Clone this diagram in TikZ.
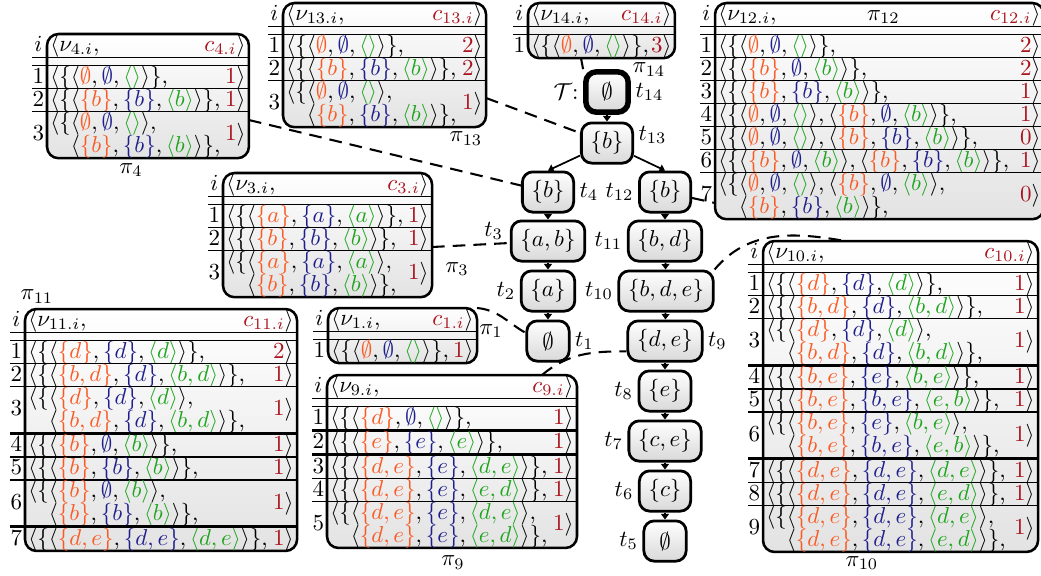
\documentclass[tikz,border=0pt]{standalone}
\usepackage{array}
\usetikzlibrary{arrows.meta,backgrounds}
\definecolor{cO}{RGB}{250,90,35}
\definecolor{cB}{RGB}{30,30,140}
\definecolor{cG}{RGB}{30,165,30}
\definecolor{cR}{RGB}{170,20,30}
\newcommand{\oset}[1]{\textcolor{cO}{\{#1\}}}
\newcommand{\bset}[1]{\textcolor{cB}{\{#1\}}}
\newcommand{\gseq}[1]{\textcolor{cG}{\langle #1\rangle}}
\newcommand{\oemp}{\textcolor{cO}{\emptyset}}
\newcommand{\bemp}{\textcolor{cB}{\emptyset}}
\newcommand{\tup}[3]{\langle #1, #2, #3\rangle}
\newcommand{\TE}{\tup{\oemp}{\bemp}{\gseq{}}}
\newcommand{\TB}{\tup{\oset{b}}{\bset{b}}{\gseq{b}}}
\newcommand{\TBz}{\tup{\oset{b}}{\bemp}{\gseq{b}}}
\newcommand{\cv}[1]{\textcolor{cR}{#1}}
\newcommand{\hd}[1]{$\langle\nu_{#1.i},$\hfill$\cv{c_{#1.i}}\rangle$}
\newcommand{\rw}[2]{$\langle\{#1\}$,\hfill$\cv{#2}\rangle$}
\newcommand{\rww}[3]{\begin{tabular}[c]{@{}l@{}}$\langle\{#1,$\\[0.2pt]\hphantom{$\langle\{$}$#2\}$,\end{tabular}\hfill$\cv{#3}\rangle$}
\newcommand{\dhl}{\hline\noalign{\vskip 3pt}\hline}
\newcommand{\thl}{\noalign{\hrule height 1.1pt}}
\newcommand{\rl}{\\[-0.5pt]\hline}
\newcommand{\rt}{\\[-0.5pt]\thl}
\renewcommand{\arraystretch}{0.5}
\setlength{\arrayrulewidth}{0.5pt}
\newenvironment{ptab}[1]{\begin{tabular}{@{}w{c}{5.5pt}@{\hspace{2.5pt}}w{l}{#1}@{\hspace{1.5pt}}}}{\end{tabular}}
\newcommand{\pbox}[1]{\begin{scope}[on background layer]\path[pbx] ([xshift=6.5pt]#1.north west) rectangle (#1.south east);\end{scope}}
\begin{document}
\begin{tikzpicture}[x=0.4348pt,y=-0.4348pt,
  tn/.style={draw, line width=1.2pt, rounded corners=4.5pt, top color=white, bottom color=gray!30, minimum height=17.5pt, minimum width=18.4pt, inner xsep=4pt, inner ysep=0pt},
  rootnode/.style={line width=2.4pt},
  lab/.style={inner sep=1.8pt},
  plab/.style={anchor=north, inner sep=0.8pt},
  ptn/.style={anchor=north west, inner sep=0pt, outer sep=0pt, xshift=-6.5pt},
  pbx/.style={draw, line width=1.1pt, rounded corners=5pt, top color=white, bottom color=gray!22},
  edg/.style={-{Triangle[length=2.4pt,width=3.4pt]}, line width=0.75pt},
  dsh/.style={dash pattern=on 5.5pt off 3.5pt, line width=0.9pt}]
\useasboundingbox (0,0) rectangle (1041,575);

% tree nodes
\node[tn, rootnode] (t14) at (607,92) {$\emptyset$};
\node[tn] (t13) at (607,143) {$\{b\}$};
\node[tn] (t4) at (548,192) {$\{b\}$};
\node[tn] (t12) at (665,192) {$\{b\}$};
\node[tn] (t3) at (548,241) {$\{a,b\}$};
\node[tn] (t11) at (665,241) {$\{b,d\}$};
\node[tn] (t2) at (548,291) {$\{a\}$};
\node[tn] (t10) at (666,291) {$\{b,d,e\}$};
\node[tn] (t1) at (548,341) {$\emptyset$};
\node[tn] (t9) at (665,341) {$\{d,e\}$};
\node[tn] (t8) at (665,391) {$\{e\}$};
\node[tn] (t7) at (665,441) {$\{c,e\}$};
\node[tn] (t6) at (665,491) {$\{c\}$};
\node[tn] (t5) at (665,541) {$\emptyset$};

% labels
\node[lab, anchor=east] (lT) at (t14.west) {$\mathcal{T}$:};
\node[lab, anchor=west] (l14) at (t14.east) {$t_{14}$};
\node[lab, anchor=west] (l13) at ([yshift=3.5pt]t13.east) {$t_{13}$};
\node[lab, anchor=west] (l4) at (t4.east) {$t_{4}$};
\node[lab, anchor=east] (l12) at (t12.west) {$t_{12}$};
\node[lab, anchor=east] (l3) at ([xshift=-1pt,yshift=4.5pt]t3.west) {$t_{3}$};
\node[lab, anchor=east] (l11) at (t11.west) {$t_{11}$};
\node[lab, anchor=east] (l2) at (t2.west) {$t_{2}$};
\node[lab, anchor=east] (l10) at (t10.west) {$t_{10}$};
\node[lab, anchor=west] (l1) at (t1.east) {$t_{1}$};
\node[lab, anchor=west] (l9) at (t9.east) {$t_{9}$};
\node[lab, anchor=east] (l8) at (t8.west) {$t_{8}$};
\node[lab, anchor=east] (l7) at (t7.west) {$t_{7}$};
\node[lab, anchor=east] (l6) at (t6.west) {$t_{6}$};
\node[lab, anchor=east] (l5) at (t5.west) {$t_{5}$};

% tree edges
\draw[edg] (t14) -- (t13);
\draw[edg] (t13) -- (t4.north);
\draw[edg] (t13) -- (t12.north);
\draw[edg] (t4) -- (t3);
\draw[edg] (t3) -- (t2);
\draw[edg] (t2) -- (t1);
\draw[edg] (t12) -- (t11);
\draw[edg] (t11) -- (t10);
\draw[edg] (t10) -- (t9);
\draw[edg] (t9) -- (t8);
\draw[edg] (t8) -- (t7);
\draw[edg] (t7) -- (t6);
\draw[edg] (t6) -- (t5);

% tables
\node[ptn] (p4) at (47,34) {\begin{ptab}{84.8pt}
$i$ & \hd{4}\\ \dhl
1 & \rw{\TE}{1}\rl
2 & \rw{\TB}{1}\rl
3 & \rww{\TE}{\TB}{1}
\end{ptab}};
\pbox{p4}

\node[ptn] (p13) at (283,3) {\begin{ptab}{85.3pt}
$i$ & \hd{13}\\ \dhl
1 & \rw{\TE}{2}\rl
2 & \rw{\TB}{2}\rl
3 & \rww{\TE}{\TB}{1}
\end{ptab}};
\pbox{p13}

\node[ptn] (p14) at (528,3) {\begin{ptab}{60.9pt}
$i$ & \hd{14}\\ \dhl
1 & \rw{\TE}{3}
\end{ptab}};
\pbox{p14}

\node[ptn] (p12) at (715,3) {\begin{ptab}{140pt}
$i$ & $\langle\nu_{12.i},$\hfill$\pi_{12}$\hfill$\cv{c_{12.i}}\rangle$\\ \dhl
1 & \rw{\TE}{2}\rl
2 & \rw{\TBz}{2}\rl
3 & \rw{\TB}{1}\rl
4 & \rw{\TE, \TBz}{1}\rl
5 & \rw{\TE, \TB}{0}\rl
6 & \rw{\TBz, \TB}{1}\rl
7 & \rww{\TE, \TBz}{\TB}{0}
\end{ptab}};
\pbox{p12}

\node[ptn] (p3) at (223,173) {\begin{ptab}{87.9pt}
$i$ & \hd{3}\\ \dhl
1 & \rw{\tup{\oset{a}}{\bset{a}}{\gseq{a}}}{1}\rl
2 & \rw{\TB}{1}\rl
3 & \rww{\tup{\oset{a}}{\bset{a}}{\gseq{a}}}{\TB}{1}
\end{ptab}};
\pbox{p3}

\node[ptn] (p11) at (25,309) {\begin{ptab}{115.3pt}
$i$ & \hd{11}\\ \dhl
1 & \rw{\tup{\oset{d}}{\bset{d}}{\gseq{d}}}{2}\rl
2 & \rw{\tup{\oset{b,d}}{\bset{d}}{\gseq{b,d}}}{1}\rl
3 & \rww{\tup{\oset{d}}{\bset{d}}{\gseq{d}}}{\tup{\oset{b,d}}{\bset{d}}{\gseq{b,d}}}{1}\rt
4 & \rw{\TBz}{1}\rl
5 & \rw{\TB}{1}\rl
6 & \rww{\TBz}{\TB}{1}\rt
7 & \rw{\tup{\oset{d,e}}{\bset{d,e}}{\gseq{d,e}}}{1}
\end{ptab}};
\pbox{p11}

\node[ptn] (p1) at (328,308) {\begin{ptab}{61.8pt}
$i$ & \hd{1}\\ \dhl
1 & \rw{\TE}{1}
\end{ptab}};
\pbox{p1}

\node[ptn] (p9) at (327,375) {\begin{ptab}{105.7pt}
$i$ & \hd{9}\\ \dhl
1 & \rw{\tup{\oset{d}}{\bemp}{\gseq{}}}{1}\rt
2 & \rw{\tup{\oset{e}}{\bset{e}}{\gseq{e}}}{1}\rt
3 & \rw{\tup{\oset{d,e}}{\bset{e}}{\gseq{d,e}}}{1}\rl
4 & \rw{\tup{\oset{d,e}}{\bset{e}}{\gseq{e,d}}}{1}\rl
5 & \rww{\tup{\oset{d,e}}{\bset{e}}{\gseq{d,e}}}{\tup{\oset{d,e}}{\bset{e}}{\gseq{e,d}}}{1}
\end{ptab}};
\pbox{p9}

\node[ptn] (p10) at (763,241) {\begin{ptab}{116.6pt}
$i$ & \hd{10}\\ \dhl
1 & \rw{\tup{\oset{d}}{\bset{d}}{\gseq{d}}}{1}\rl
2 & \rw{\tup{\oset{b,d}}{\bset{d}}{\gseq{b,d}}}{1}\rl
3 & \rww{\tup{\oset{d}}{\bset{d}}{\gseq{d}}}{\tup{\oset{b,d}}{\bset{d}}{\gseq{b,d}}}{1}\rt
4 & \rw{\tup{\oset{b,e}}{\bset{e}}{\gseq{b,e}}}{1}\rl
5 & \rw{\tup{\oset{b,e}}{\bset{b,e}}{\gseq{e,b}}}{1}\rl
6 & \rww{\tup{\oset{b,e}}{\bset{e}}{\gseq{b,e}}}{\tup{\oset{b,e}}{\bset{b,e}}{\gseq{e,b}}}{1}\rt
7 & \rw{\tup{\oset{d,e}}{\bset{d,e}}{\gseq{d,e}}}{1}\rl
8 & \rw{\tup{\oset{d,e}}{\bset{d,e}}{\gseq{e,d}}}{1}\rl
9 & \rww{\tup{\oset{d,e}}{\bset{d,e}}{\gseq{d,e}}}{\tup{\oset{d,e}}{\bset{d,e}}{\gseq{e,d}}}{1}
\end{ptab}};
\pbox{p10}

% pi labels
\node[plab, yshift=-1.2pt] (lp4) at (131,0 |- p4.south) {$\pi_4$};
\node[plab, yshift=-1pt] (lp13) at (466,0 |- p13.south) {$\pi_{13}$};
\node[plab, yshift=-1pt] (lp14) at (649,0 |- p14.south) {$\pi_{14}$};
\node (lp3) at (457,269) {$\pi_3$};
\node[anchor=south, inner sep=0.8pt, yshift=1.5pt] (lp11) at (37,0 |- p11.north) {$\pi_{11}$};
\node (lp1) at (491,331) {$\pi_1$};
\node[plab, yshift=-2.5pt] (lp9) at (453,0 |- p9.south) {$\pi_9$};
\node[plab, yshift=-1pt] (lp10) at (862,0 |- p10.south) {$\pi_{10}$};

% connectors
\coordinate (c14) at (581,0 |- p14.south);
\coordinate (c13) at (p13.east |- 0,98);
\coordinate (c4) at (p4.east |- 0,120);
\coordinate (c3) at (p3.east |- 0,247);
\coordinate (c1) at (p1.north east);
\coordinate (c9) at (542,0 |- p9.north);
\coordinate (c10) at (845,0 |- p10.north);
\coordinate (c12) at ([xshift=6.5pt]p12.west |- 0,203);
\draw[dsh] (c14) -- (t14.north west);
\draw[dsh] (c13) -- (t13);
\draw[dsh] (c4) -- (t4);
\draw[dsh] (c3) -- (t3);
\draw[dsh] (c1) to[out=-5,in=150] (t1.160);
\draw[dsh] (c9) to[out=40,in=180] (t9.195);
\draw[dsh] (t10.north east) to[out=50,in=170] (c10);
\draw[dsh] (t12) -- (c12);
\end{tikzpicture}
\end{document}
